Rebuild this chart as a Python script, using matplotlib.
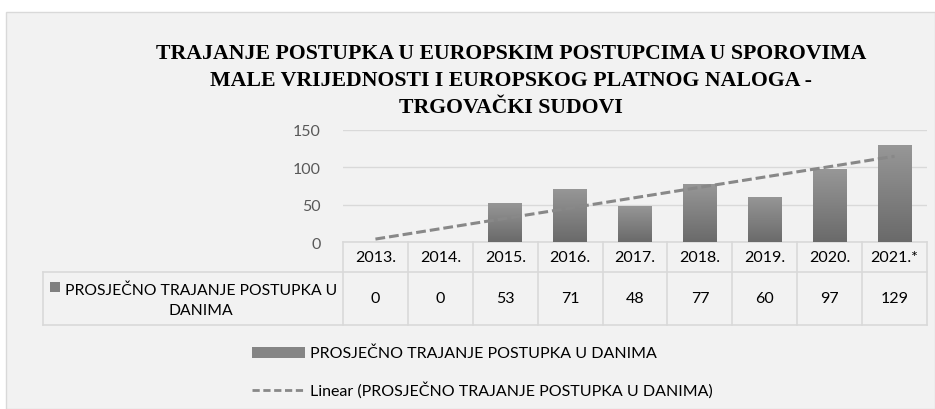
import numpy as np
import matplotlib
matplotlib.use("Agg")
import matplotlib.pyplot as plt
from matplotlib.colors import LinearSegmentedColormap
from matplotlib.patches import Rectangle
from matplotlib.lines import Line2D

# data
years = ["2013.", "2014.", "2015.", "2016.", "2017.", "2018.", "2019.", "2020.", "2021.*"]
days = [0, 0, 53, 71, 48, 77, 60, 97, 129]
series_name = "PROSJEČNO TRAJANJE POSTUPKA U DANIMA"
title = ("TRAJANJE POSTUPKA U EUROPSKIM POSTUPCIMA U SPOROVIMA\n"
         "MALE VRIJEDNOSTI I EUROPSKOG PLATNOG NALOGA -\n"
         "TRGOVAČKI SUDOVI")

W, H = 935, 410
fig = plt.figure(figsize=(W / 100, H / 100), dpi=100)
fig.patch.set_facecolor("white")

def fx(px):
    return px / W

def fy(py):
    return 1 - py / H

# grey chart panel
fig.patches.append(Rectangle((fx(6), 0), fx(935 - 6), fy(13), transform=fig.transFigure,
                             facecolor="#f2f2f2", edgecolor="#d9d9d9", lw=1, zorder=-5))

ax_l, ax_r, ax_t, ax_b = 343, 927, 130.7, 243.3
ax = fig.add_axes([fx(ax_l), fy(ax_b), fx(ax_r - ax_l), (ax_b - ax_t) / H])
ax.set_facecolor("none")

x = np.arange(len(years))
bars = ax.bar(x, days, width=0.52, color="#808080", zorder=2)
cmap = LinearSegmentedColormap.from_list("g", ["#6a6a6a", "#979797"])
grad = np.linspace(0, 1, 100).reshape(-1, 1)
for b in bars:
    if b.get_height() <= 0:
        continue
    x0 = b.get_x()
    im = ax.imshow(grad, extent=[x0, x0 + b.get_width(), 0, b.get_height()], origin="lower",
                   aspect="auto", cmap=cmap, zorder=3)
    im.set_clip_path(b)

# linear trendline
k, c0 = np.polyfit(x + 1, days, 1)
trend = k * (x + 1) + c0
ax.plot(x, trend, color="#888888", lw=2.2, dashes=(3.2, 1.3), zorder=4)

ax.set_xlim(-0.5, len(years) - 0.5)
ax.set_ylim(0, 150)
ax.set_yticks([0, 50, 100, 150])
ax.yaxis.grid(True, color="#d9d9d9", lw=1)
ax.set_axisbelow(True)
ax.set_xticks([])
for s in ax.spines.values():
    s.set_visible(False)
ax.tick_params(axis="y", length=0, pad=16, labelsize=11.5, labelcolor="#595959")
for t in ax.get_yticklabels():
    t.set_fontfamily("Lato")

# data table under the axis
tab = fig.add_axes([0, 0, 1, 1], zorder=-1)
tab.set_facecolor("none")
tab.set_xlim(0, W)
tab.set_ylim(H, 0)
tab.axis("off")
lc = "#d9d9d9"
fs = 11.5
col_w = (ax_r - ax_l) / len(years)
row1, row2, row3 = 243.3, 272.7, 326
left = 43
tab.plot([ax_l, ax_r], [row1, row1], color=lc, lw=1.2)
tab.plot([left, ax_r], [row2, row2], color=lc, lw=1.2)
tab.plot([left, ax_r], [row3, row3], color=lc, lw=1.2)
tab.plot([left, left], [row2, row3], color=lc, lw=1.2)
for i in range(len(years) + 1):
    xx = ax_l + i * col_w
    tab.plot([xx, xx], [row1, row3], color=lc, lw=1.2)
for i, (yr, v) in enumerate(zip(years, days)):
    cx = ax_l + (i + 0.5) * col_w
    tab.text(cx, (row1 + row2) / 2, yr, ha="center", va="center", fontsize=fs,
             family="Lato", color="black")
    tab.text(cx, (row2 + row3) / 2, str(v), ha="center", va="center", fontsize=fs,
             family="Lato", color="black")
tab.text(201, (row2 + row3) / 2 + 1, "PROSJEČNO TRAJANJE POSTUPKA U\nDANIMA",
         ha="center", va="center", fontsize=11.3, family="Lato", color="black", linespacing=1.55)
tab.add_patch(Rectangle((50, 283), 10, 10, facecolor="#808080", edgecolor="none"))

# legend
tab.add_patch(Rectangle((252, 348), 53, 11, facecolor="#858585", edgecolor="none"))
tab.text(310, 353.5, series_name, ha="left", va="center", fontsize=fs, family="Lato")
tab.add_line(Line2D([252, 305], [390.5, 390.5], color="#888888", lw=2, dashes=(2.6, 1.3)))
tab.text(310, 390.5, "Linear (" + series_name + ")", ha="left", va="center", fontsize=fs,
         family="Lato")

fig.text(fx(511), fy(81), title, ha="center", va="center", fontsize=15.7, fontweight="bold",
         family="Liberation Serif", linespacing=1.44)

fig.savefig("out.png", dpi=100, facecolor=fig.get_facecolor())
